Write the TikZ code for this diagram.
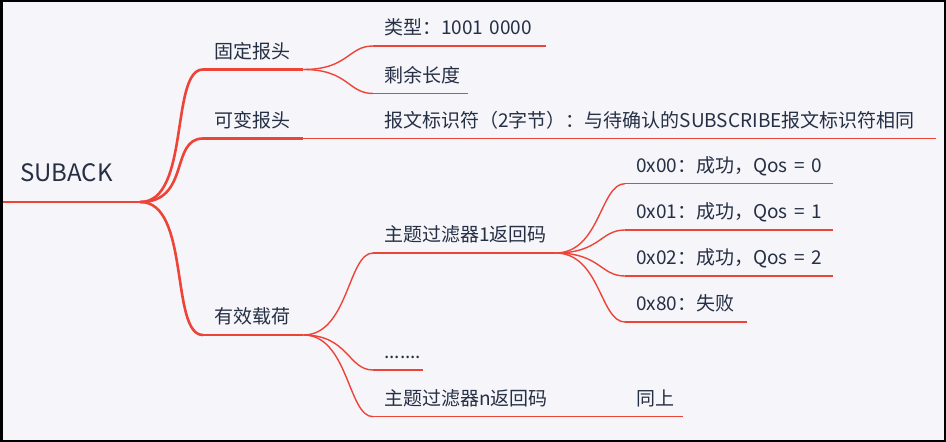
\documentclass[tikz,border=0pt]{standalone}
\usepackage{fontspec}
\setmainfont{Noto Sans CJK SC}
\definecolor{branch}{RGB}{238,68,56}
\definecolor{ink}{RGB}{38,48,68}
\definecolor{paper}{RGB}{245,245,250}

\begin{document}
\begin{tikzpicture}[x=1bp,y=-1bp,
    every node/.style={anchor=south west,inner ysep=0pt,inner xsep=11bp,text=ink,align=left,
                       text depth=11bp,font=\fontsize{19bp}{23bp}\selectfont},
    tp/.style={text width=#1},
    thk/.style={draw=branch,line width=2.6bp},
    thn/.style={draw=branch,line width=1.4bp}]
    \useasboundingbox (0,0) rectangle (946,442);
    \fill[paper] (0,0) rectangle (946,442);
    % topics
    \node[tp=100bp,inner xsep=20bp,text depth=20bp,font=\fontsize{24bp}{28bp}\selectfont](root) at (0,202){SUBACK};
    \node[tp=78bp](fix) at (203,69.5){固定报头};
    \node[tp=78bp](var) at (203,138.5){可变报头};
    \node[tp=78bp](pay) at (203,335){有效载荷};
    \node[tp=151bp](type) at (373,46){类型：1001~0000};
    \node[tp=73bp](len) at (373,93.5){剩余长度};
    \node[tp=541bp](pid) at (373,138.5){报文标识符（2字节）：与待确认的SUBSCRIBE报文标识符相同};
    \node[tp=160bp](rc1) at (373,253){主题过滤器1返回码};
    \node[tp=28bp](dots) at (373,370){.......};
    \node[tp=160bp](rcn) at (373,416.7){主题过滤器n返回码};
    \node[tp=186bp](c0) at (625,183.7){0x00：成功，Qos~=~0};
    \node[tp=186bp](c1) at (625,230){0x01：成功，Qos~=~1};
    \node[tp=186bp](c2) at (625,276){0x02：成功，Qos~=~2};
    \node[tp=100bp](c80) at (625,322){0x80：失败};
    \node[tp=36bp](same) at (625,416.7){同上};
    % underlines
    \foreach \n in {root,fix,var,pay} \draw[thk](\n.south west)--(\n.south east);
    \foreach \n in {type,len,pid,rc1,dots,rcn,c0,c1,c2,c80,same} \draw[thn](\n.south west)--(\n.south east);
    % branches
    \foreach \n in {fix,var,pay} \draw[thk](root.south east) .. controls +(50,0) and +(-33,0) .. (\n.south west);
    \foreach \a/\b in {fix/type,fix/len,var/pid,pay/rc1,pay/dots,pay/rcn,rc1/c0,rc1/c1,rc1/c2,rc1/c80,rcn/same}
      \draw[thn](\a.south east) .. controls +(45,0) and +(-25,0) .. (\b.south west);
    \draw[line width=5bp](0,0) rectangle (946,442);
\end{tikzpicture}
\end{document}
